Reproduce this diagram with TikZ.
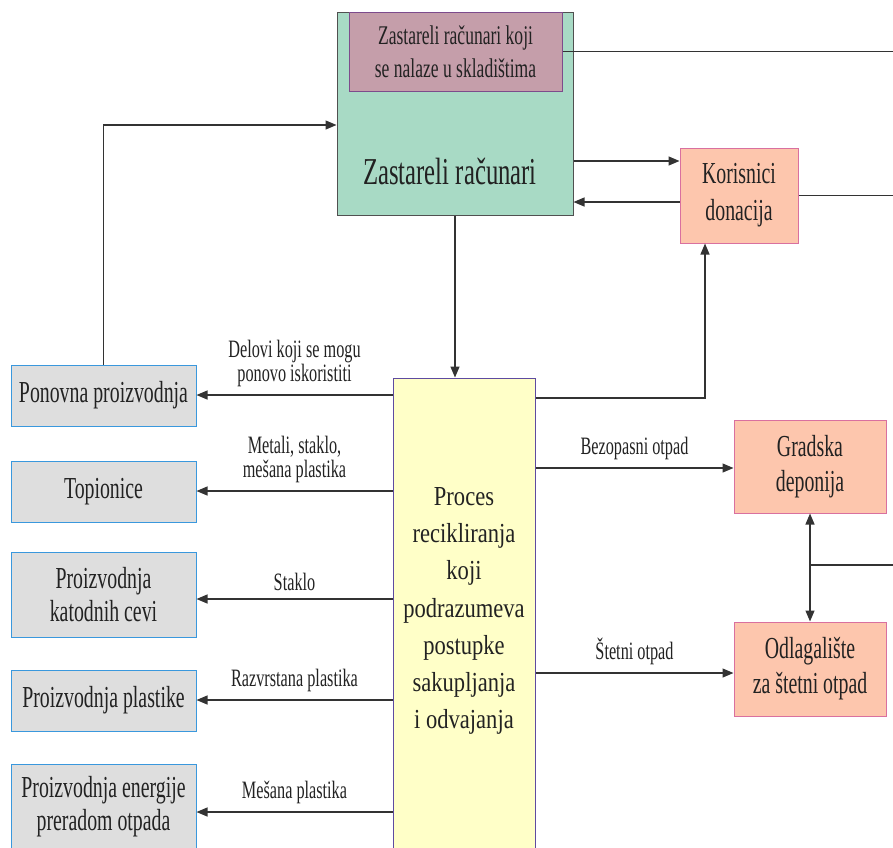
\documentclass[tikz,border=0pt]{standalone}
\usepackage{fontspec}
\setmainfont{Liberation Serif}[FakeStretch=0.65]
\newfontfamily\procfont{Liberation Serif}[FakeStretch=0.82]
\usetikzlibrary{arrows.meta}
\definecolor{zelena}{HTML}{A8DAC5}
\definecolor{zelenarub}{HTML}{505050}
\definecolor{ljubicasta}{HTML}{C59EAA}
\definecolor{ljubicastarub}{HTML}{7D4B8C}
\definecolor{losos}{HTML}{FDC6AD}
\definecolor{lososrub}{HTML}{D9709F}
\definecolor{siva}{HTML}{DEDEDE}
\definecolor{plava}{HTML}{3A98DD}
\definecolor{zuta}{HTML}{FFFFC8}
\definecolor{zutarub}{HTML}{5E4BA0}
\definecolor{linija}{HTML}{333333}
\definecolor{tekst}{HTML}{222222}

\begin{document}
\begin{tikzpicture}[x=1pt,y=-1pt,->,>={Triangle[length=11pt,width=9pt]},
    line width=1.3pt,draw=linija,text=tekst,
    box/.style={draw,inner sep=0pt,align=center,line width=1pt,
      font=\fontsize{30.5}{33}\selectfont},
    lbl/.style={font=\fontsize{25}{24}\selectfont,align=center,inner sep=1pt,above=7pt}]

  \useasboundingbox (0,0) rectangle (893,847);
  \clip (0,0) rectangle (893,847);

  % gornji deo
  \node[box,fill=zelena,draw=zelenarub,minimum width=236pt,minimum height=203pt] (rac) at (455,113.5) {};
  \node[box,fill=ljubicasta,draw=ljubicastarub,minimum width=213pt,minimum height=79pt,
        font=\fontsize{27}{33}\selectfont] (skl) at (455.5,51.5) {Zastareli računari koji\\se nalaze u skladištima};
  \node[font=\fontsize{38}{40}\selectfont] (racnaslov) at (450,171) {Zastareli računari};
  \node[box,fill=losos,draw=lososrub,minimum width=118pt,minimum height=95pt,
        font=\fontsize{30.5}{37}\selectfont] (kor) at (739,195.5) {Korisnici\\donacija};

  % proces
  \node[box,fill=zuta,draw=zutarub,minimum width=142pt,minimum height=480pt] (proc) at (464,618) {};
  \node[font=\procfont\fontsize{27.5}{37.3}\selectfont,align=center] (proctxt) at (464,611)
       {Proces\\recikliranja\\koji\\podrazumeva\\postupke\\sakupljanja\\i odvajanja};

  % levo
  \node[box,fill=siva,draw=plava,minimum width=185pt,minimum height=61pt] (pon) at (103.5,395.5) {Ponovna proizvodnja};
  \node[box,fill=siva,draw=plava,minimum width=185pt,minimum height=61pt] (topi) at (103.5,491.5) {Topionice};
  \node[box,fill=siva,draw=plava,minimum width=185pt,minimum height=85pt] (kat) at (103.5,594.5) {Proizvodnja\\katodnih cevi};
  \node[box,fill=siva,draw=plava,minimum width=185pt,minimum height=61pt] (pla) at (103.5,700.5) {Proizvodnja plastike};
  \node[box,fill=siva,draw=plava,minimum width=185pt,minimum height=85pt] (ene) at (103.5,806.5) {Proizvodnja energije\\preradom otpada};

  % desno
  \node[box,fill=losos,draw=lososrub,minimum width=152pt,minimum height=93pt,
        font=\fontsize{30.5}{35}\selectfont] (grad) at (810,466.5) {Gradska\\deponija};
  \node[box,fill=losos,draw=lososrub,minimum width=152pt,minimum height=94pt,
        font=\fontsize{30.5}{35}\selectfont] (odl) at (810,669) {Odlagalište\\za štetni otpad};

  % veze
  \coordinate (izlaz1) at (893,51.5);
  \coordinate (izlaz2) at (893,195.5);
  \coordinate (izlaz3) at (893,565);

  \draw (pon.north) |- (rac.west |- 0,125);
  \draw (rac.east |- 0,161) -- (kor.west |- 0,161);
  \draw (kor.west |- 0,202) -- (rac.east |- 0,202);
  \draw (rac.south) -- (rac.south |- proc.north);
  \draw (proc.east |- 0,398) -| ([xshift=-34pt]kor.south);
  \draw[-] (skl.east) -- (izlaz1);
  \draw[-] (kor.east) -- (izlaz2);
  \draw[<->] (grad.south) -- (odl.north);
  \draw[-] (grad.south |- izlaz3) -- (izlaz3);

  \path (proc.west |- 0,395) edge node[lbl] {Delovi koji se mogu\\ponovo iskoristiti} (pon.east |- 0,395)
        (proc.west |- 0,491) edge node[lbl] {Metali, staklo,\\mešana plastika} (topi.east |- 0,491)
        (proc.west |- 0,599) edge node[lbl] {Staklo} (kat.east |- 0,599)
        (proc.west |- 0,700) edge node[lbl] {Razvrstana plastika} (pla.east |- 0,700)
        (proc.west |- 0,812) edge node[lbl] {Mešana plastika} (ene.east |- 0,812)
        (proc.east |- 0,468) edge node[lbl] {Bezopasni otpad} (grad.west |- 0,468)
        (proc.east |- 0,673) edge node[lbl] {Štetni otpad} (odl.west |- 0,673);
\end{tikzpicture}
\end{document}
